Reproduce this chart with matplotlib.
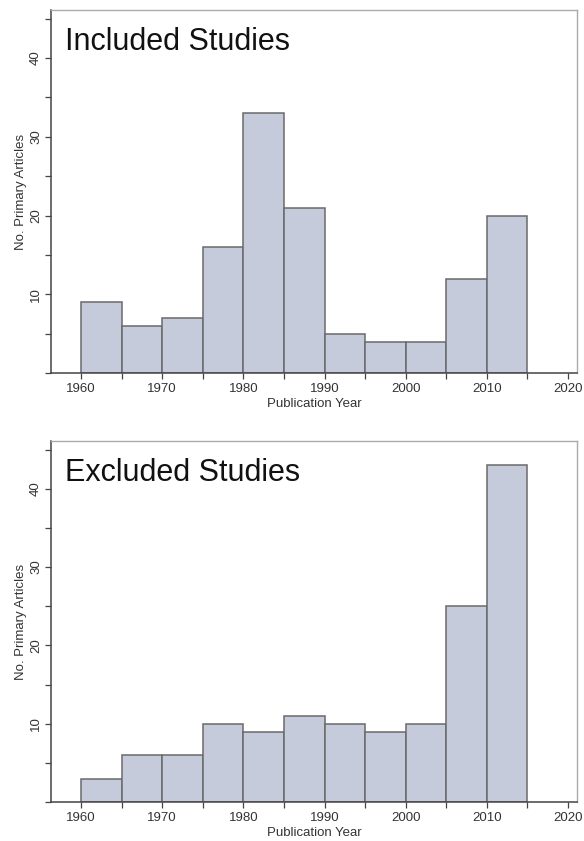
import matplotlib
matplotlib.use("Agg")
import matplotlib.pyplot as plt
import numpy as np
from matplotlib.ticker import MultipleLocator

plt.rcParams['font.family'] = ['Liberation Sans', 'DejaVu Sans']

bin_edges = [1960, 1965, 1970, 1975, 1980, 1985, 1990, 1995, 2000, 2005, 2010, 2015]
included_counts = [9, 6, 7, 16, 33, 21, 5, 4, 4, 12, 20]
excluded_counts = [3, 6, 6, 10, 9, 11, 10, 9, 10, 25, 43]
titles = ["Included Studies", "Excluded Studies"]
xlabel = "Publication Year"
ylabel = "No. Primary Articles"
xticks = [1960, 1970, 1980, 1990, 2000, 2010, 2020]
yticks = [10, 20, 30, 40]

fig = plt.figure(figsize=(5.84, 8.41), dpi=100)
W, H = 584, 841
boxes = [(51, 10, 577, 373), (51, 441, 577, 802)]

for (x0, y0, x1, y1), counts, title in zip(boxes, [included_counts, excluded_counts], titles):
    ax = fig.add_axes([x0 / W, 1 - y1 / H, (x1 - x0) / W, (y1 - y0) / H])
    edges = np.array(bin_edges)
    ax.bar(edges[:-1], counts, width=np.diff(edges), align='edge',
           color='#C6CBDB', edgecolor='#6a6a6a', linewidth=1.1, zorder=2)
    ax.set_xlim(1956.3, 2021.1)
    ax.set_ylim(0, 46.1)
    ax.set_xticks(xticks)
    ax.set_yticks(yticks)
    ax.xaxis.set_minor_locator(MultipleLocator(5))
    ax.yaxis.set_minor_locator(MultipleLocator(5))
    ax.tick_params(axis='both', which='both', direction='out', length=4.5,
                   width=0.9, color='#444444', labelsize=9.5, labelcolor='#333333', pad=3)
    ax.tick_params(axis='y', labelrotation=90, pad=2)
    for lab in ax.get_yticklabels():
        lab.set_va('center')
    for side in ['left', 'bottom']:
        ax.spines[side].set_color('#444444')
        ax.spines[side].set_linewidth(1.1)
    for side in ['top', 'right']:
        ax.spines[side].set_color('#aaaaaa')
        ax.spines[side].set_linewidth(1.0)
    ax.set_xlabel(xlabel, fontsize=9.5, color='#333333', labelpad=2)
    ax.set_ylabel(ylabel, fontsize=9.5, color='#333333', labelpad=2)
    ax.text(0.026, 0.952, title, transform=ax.transAxes, fontsize=22,
            ha='left', va='top', color='#111111')

fig.savefig("out.png", dpi=100)
